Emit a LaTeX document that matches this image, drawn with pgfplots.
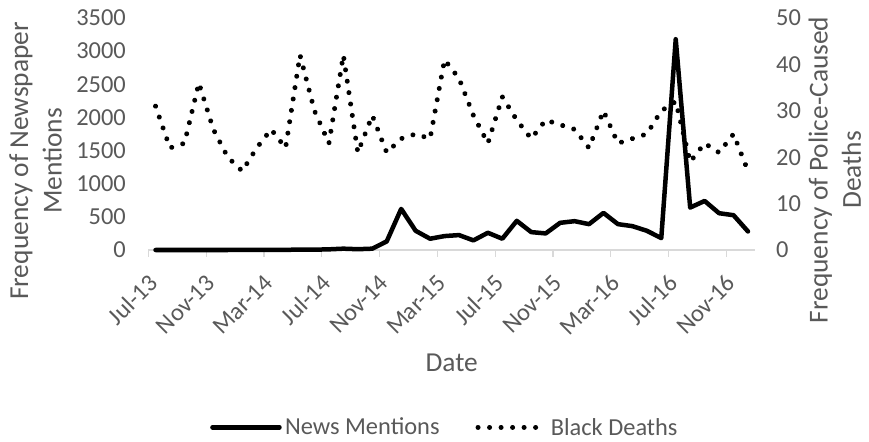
\documentclass[border=0pt]{standalone}
\usepackage{fontspec}
\setmainfont{Carlito}
\usepackage{pgfplots}
\usepackage{pgfplotstable}
\pgfplotsset{compat=1.18}
\definecolor{txt}{HTML}{595959}
\definecolor{axgray}{HTML}{D9D9D9}
\newcommand\tickfont{\fontsize{24.5}{29}\selectfont}
\newcommand\titlefont{\fontsize{27.5}{33.5}\selectfont}

% month index (0 = Jul-13), newspaper mentions, police-caused black deaths
\pgfplotstableread{
m news deaths
0 0 31
1 0 22
2 0 23
3 0 36
4 0 26
5 0 20
6 2 17
7 2 22
8 3 26
9 3 22
10 5 42
11 5 30
12 10 23
13 20 42
14 12 21
15 20 29
16 130 21
17 620 24
18 290 25
19 170 24
20 210 41
21 225 37
22 145 29
23 260 23
24 170 33
25 440 28
26 270 24
27 250 28
28 410 27
29 435 26
30 390 22
31 560 30
32 390 23
33 360 24
34 290 25
35 180 30
36 3180 32
37 640 19
38 740 23
39 555 21
40 525 25
41 280 17
}\datatable

\pgfplotsset{
  common/.style={
    at={(148.3bp,192bp)}, anchor=south west,
    scale only axis, width=606.9bp, height=232bp,
    xmin=-0.5, xmax=41.5, clip=false,
    major tick length=0pt,
    /pgf/number format/assume math mode=true,
    /pgf/number format/1000 sep={},
    yticklabel style={font=\tickfont, text=txt, inner sep=0pt},
    y axis line style={draw=none},
  },
  deathline/.style={black, line width=5bp, line cap=round, dash pattern=on 0.01bp off 11.5bp},
  newsline/.style={black, line width=4.5bp, line join=round, line cap=round},
  keyline/.style={legend image code/.code={\draw[##1] (0bp,0bp) -- (67bp,0bp);}},
}

\begin{document}
\begin{tikzpicture}
\path[use as bounding box] (0,0) rectangle (869bp,442bp);

% secondary axis: deaths, also carries the date axis
\begin{axis}[common,
  ymin=0, ymax=50, ytick={0,10,...,50},
  axis x line*=bottom, axis y line*=right,
  x axis line style={draw=axgray, line width=1.5bp, -},
  xtick={0,4,...,40},
  xticklabels={Jul-13,Nov-13,Mar-14,Jul-14,Nov-14,Mar-15,Jul-15,Nov-15,Mar-16,Jul-16,Nov-16},
  minor xtick={-0.5,3.5,...,39.5},
  tick align=outside,
  minor tick length=7bp,
  minor x tick style={draw=axgray, line width=1.2bp},
  xticklabel style={font=\tickfont, text=txt, inner sep=0pt, xshift=-2.5bp, yshift=-29bp, rotate=45, anchor=east},
  yticklabel style={anchor=west, xshift=20.8bp},
  xlabel={Date},
  xlabel style={font=\titlefont, text=txt, at={(axis description cs:0.5,-0.487)}, anchor=center},
  ylabel={Frequency of Police-Caused\\Deaths},
  ylabel style={font=\titlefont, text=txt, align=center, at={(axis description cs:1.1313,0.345)}, anchor=center},
]
\addplot[deathline] table[x=m, y=deaths] {\datatable};
\end{axis}

% primary axis: newspaper mentions
\begin{axis}[common,
  ymin=0, ymax=3500, ytick={0,500,...,3500},
  axis x line=none, axis y line*=left,
  yticklabel style={anchor=east, xshift=-22.3bp},
  ylabel={Frequency of Newspaper\\Mentions},
  ylabel style={font=\titlefont, text=txt, align=center, at={(axis description cs:-0.1857,0.384)}, anchor=center},
  legend columns=2,
  legend style={draw=none, fill=none, inner sep=0pt, font=\tickfont, text=txt,
    at={(axis description cs:0.1017,-0.7642)}, anchor=west,
    nodes={inner sep=0pt},
    /tikz/every odd column/.append style={column sep=3.3bp},
    /tikz/every even column/.append style={column sep=36bp}},
]
\addplot[newsline, forget plot] table[x=m, y=news] {\datatable};
\addlegendimage{newsline, keyline}
\addlegendentry{News Mentions}
\addlegendimage{deathline, keyline}
\addlegendentry{Black Deaths}
\end{axis}
\end{tikzpicture}
\end{document}
